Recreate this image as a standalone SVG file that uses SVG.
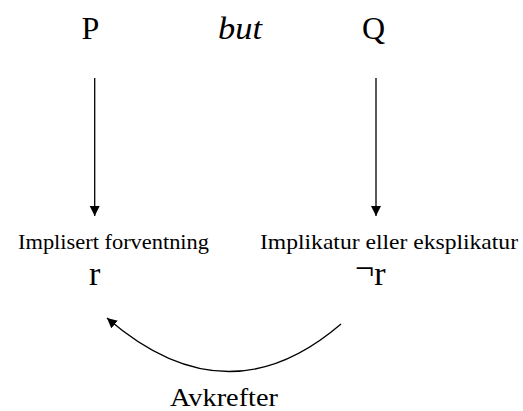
<svg xmlns="http://www.w3.org/2000/svg" width="523" height="411" viewBox="0 0 523 411">
  <style>
    text { font-family: "Liberation Serif", "Times New Roman", serif; fill: #000; }
    .big { font-size: 32px; }
    .lbl { font-size: 22px; }
    .var { font-size: 34px; }
    .conn { stroke: #000; stroke-width: 1.3; fill: none; }
  </style>
  <defs>
    <marker id="head" viewBox="0 0 10 10" refX="10" refY="5" markerWidth="10" markerHeight="11" markerUnits="userSpaceOnUse" orient="auto">
      <path d="M0,0 L10,5 L0,10 Z" fill="#000"/>
    </marker>
  </defs>
  <rect width="523" height="411" fill="#fff"/>

  <g id="p-node">
    <text class="big" x="81.5" y="39">P</text>
  </g>
  <g id="but-node">
    <text class="big" x="218" y="39" font-size="34" font-style="italic" textLength="44" lengthAdjust="spacingAndGlyphs">but</text>
  </g>
  <g id="q-node">
    <text class="big" x="362" y="39">Q</text>
  </g>
  <g id="r-node">
    <text class="lbl" x="18" y="249" textLength="191" lengthAdjust="spacingAndGlyphs">Implisert forventning</text>
    <text class="var" x="89" y="285">r</text>
  </g>
  <g id="not-r-node">
    <text class="lbl" x="260" y="249" textLength="258" lengthAdjust="spacingAndGlyphs">Implikatur eller eksplikatur</text>
    <text class="var" x="355" y="285"><tspan dy="-6">¬</tspan><tspan dy="6">r</tspan></text>
  </g>
  <g id="avkrefter-label">
    <text x="170" y="406" font-size="25" textLength="108" lengthAdjust="spacingAndGlyphs">Avkrefter</text>
  </g>

  <g id="connectors">
    <line class="conn" x1="94.7" y1="78" x2="94.7" y2="216" marker-end="url(#head)"/>
    <line class="conn" x1="376" y1="78" x2="376" y2="216" marker-end="url(#head)"/>
    <path class="conn" d="M341,324 Q227,422 107,318" marker-end="url(#head)"/>
  </g>
</svg>
